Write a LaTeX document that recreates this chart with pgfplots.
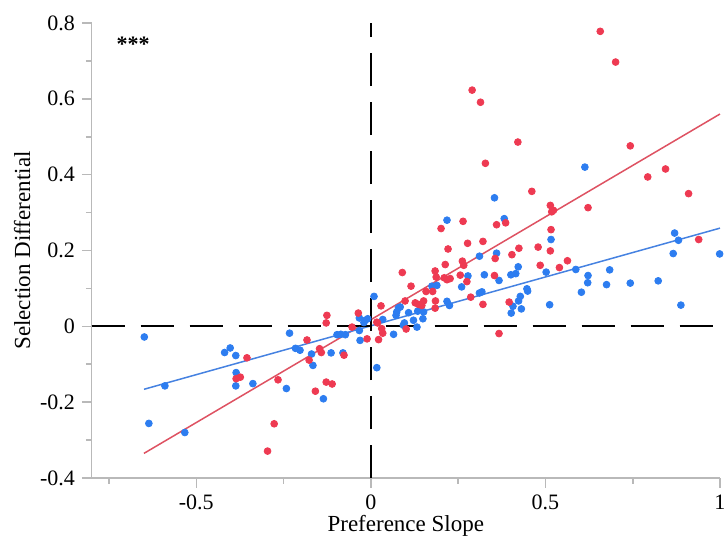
\documentclass[border=0pt]{standalone}
\usepackage{fontspec}
\setmainfont{Liberation Serif}
\usepackage{pgfplots}
\pgfplotsset{compat=1.18}
\definecolor{ptblue}{RGB}{45,125,240}
\definecolor{ptred}{RGB}{238,58,82}
\definecolor{lnblue}{RGB}{70,130,225}
\definecolor{lnred}{RGB}{222,82,98}
\definecolor{axgray}{RGB}{185,185,185}
\begin{document}
\begin{tikzpicture}
\begin{axis}[
  scale only axis,
  width=314.2pt, height=227.5pt,
  xmin=-0.8, xmax=1.0, ymin=-0.4, ymax=0.8,
  axis lines=left,
  axis line style={draw=axgray, line width=0.8pt, -},
  tick align=outside,
  major tick length=4.8pt,
  minor tick length=2.8pt,
  every tick/.style={draw=axgray, line width=0.8pt},
  xtick={-0.5,0,0.5,1}, xticklabels={-0.5,0,0.5,1},
  ytick={-0.4,-0.2,0,0.2,0.4,0.6,0.8}, yticklabels={-0.4,-0.2,0,0.2,0.4,0.6,0.8},
  minor xtick={-0.75,-0.25,0.25,0.75},
  minor ytick={-0.3,-0.1,0.1,0.3,0.5,0.7},
  ticklabel style={font=\fontsize{11}{13}\selectfont},
  label style={font=\fontsize{11.5}{14}\selectfont},
  xlabel={Preference Slope},
  ylabel={Selection Differential},
  xlabel style={yshift=3.8pt},
  ylabel style={yshift=-2pt},
  clip=false,
]
\addplot[only marks, mark=*, mark size=1.7pt, color=ptblue, mark options={draw=ptblue, fill=ptblue}] coordinates {
(-0.649,-0.028) (-0.590,-0.157) (-0.636,-0.256) (-0.533,-0.280)
(-0.419,-0.069) (-0.403,-0.057) (-0.387,-0.077) (-0.386,-0.122)
(-0.387,-0.157) (-0.338,-0.151) (-0.242,-0.164) (-0.233,-0.018)
(-0.216,-0.058) (-0.203,-0.063) (-0.170,-0.073) (-0.166,-0.103)
(-0.136,-0.191) (-0.114,-0.070) (-0.080,-0.070) (-0.097,-0.022)
(-0.086,-0.021) (-0.073,-0.022) (-0.033,0.022) (-0.033,-0.011)
(-0.031,-0.037) (-0.016,0.016) (-0.009,0.020) (-0.020,0.010)
(0.009,0.079) (0.017,-0.109) (0.034,0.018) (0.065,-0.021)
(0.072,0.029) (0.074,0.038) (0.079,0.049) (0.093,0.003)
(0.096,0.009) (0.108,0.036) (0.122,0.016) (0.132,-0.002)
(0.134,0.040) (0.141,0.045) (0.149,0.020) (0.151,0.038)
(0.084,0.051) (0.175,0.106) (0.189,0.108) (0.218,0.280)
(0.354,0.339) (0.382,0.284) (0.311,0.185) (0.360,0.193)
(0.278,0.133) (0.325,0.136) (0.367,0.121) (0.401,0.136)
(0.415,0.139) (0.422,0.157) (0.260,0.104) (0.311,0.088)
(0.318,0.091) (0.218,0.066) (0.225,0.055) (0.447,0.099)
(0.449,0.093) (0.428,0.079) (0.423,0.067) (0.407,0.053)
(0.431,0.046) (0.402,0.035) (0.516,0.229) (0.502,0.143)
(0.587,0.150) (0.622,0.134) (0.621,0.115) (0.684,0.149)
(0.603,0.090) (0.675,0.110) (0.743,0.114) (0.512,0.057)
(0.613,0.420) (0.870,0.246) (0.881,0.227) (0.866,0.192)
(0.999,0.191) (0.823,0.120) (0.888,0.056)
};
\addplot[only marks, mark=*, mark size=1.7pt, color=ptred, mark options={draw=ptred, fill=ptred}] coordinates {
(-0.355,-0.083) (-0.386,-0.138) (-0.374,-0.134) (-0.277,-0.257)
(-0.296,-0.329) (-0.266,-0.141) (-0.183,-0.036) (-0.177,-0.089)
(-0.159,-0.171) (-0.147,-0.059) (-0.142,-0.069) (-0.128,-0.147)
(-0.111,-0.152) (-0.126,0.029) (-0.128,0.009) (-0.077,-0.076)
(-0.054,-0.002) (-0.036,0.035) (-0.011,-0.033) (0.022,-0.035)
(0.029,0.054) (0.019,0.009) (0.031,-0.006) (0.034,-0.018)
(0.017,0.011) (0.098,0.067) (0.101,-0.007) (0.115,0.106)
(0.127,0.062) (0.136,0.058) (0.090,0.142) (0.184,0.146)
(0.187,0.130) (0.158,0.092) (0.177,0.092) (0.151,0.067)
(0.185,0.067) (0.146,0.055) (0.184,0.048) (0.201,0.258)
(0.264,0.277) (0.360,0.268) (0.386,0.273) (0.221,0.204)
(0.277,0.219) (0.321,0.224) (0.404,0.189) (0.424,0.206)
(0.479,0.209) (0.356,0.179) (0.262,0.172) (0.266,0.161)
(0.213,0.163) (0.210,0.128) (0.218,0.123) (0.227,0.126)
(0.256,0.135) (0.275,0.118) (0.354,0.134) (0.286,0.077)
(0.321,0.058) (0.396,0.064) (0.367,-0.019) (0.485,0.161)
(0.514,0.319) (0.518,0.302) (0.523,0.306) (0.622,0.313)
(0.516,0.255) (0.514,0.199) (0.540,0.155) (0.563,0.173)
(0.743,0.476) (0.793,0.394) (0.844,0.415) (0.910,0.350)
(0.939,0.229) (0.657,0.778) (0.701,0.697) (0.290,0.623)
(0.314,0.591) (0.421,0.486) (0.328,0.430) (0.461,0.356)
};
\addplot[lnred, line width=0.75pt] coordinates {(-0.65,-0.335) (1.0,0.56)};
\addplot[lnblue, line width=0.75pt] coordinates {(-0.65,-0.166) (1.0,0.259)};
\addplot[black, line width=1pt, dash pattern=on 16.7pt off 7.8pt] coordinates {(-0.8,0) (1.0,0)};
\addplot[black, line width=1pt, dash pattern=on 16.7pt off 7.8pt] coordinates {(0,-0.4) (0,0.8)};
\node[font=\bfseries\fontsize{11}{13}\selectfont] at (axis cs:-0.681,0.744) {***};
\coordinate (sw) at (rel axis cs:0,0);
\coordinate (ne) at (rel axis cs:1,1);
\end{axis}
\pgfresetboundingbox
\path ([xshift=-45.8pt,yshift=-31.5pt]sw) rectangle ([xshift=2pt,yshift=11.5pt]ne);
\end{tikzpicture}
\end{document}
